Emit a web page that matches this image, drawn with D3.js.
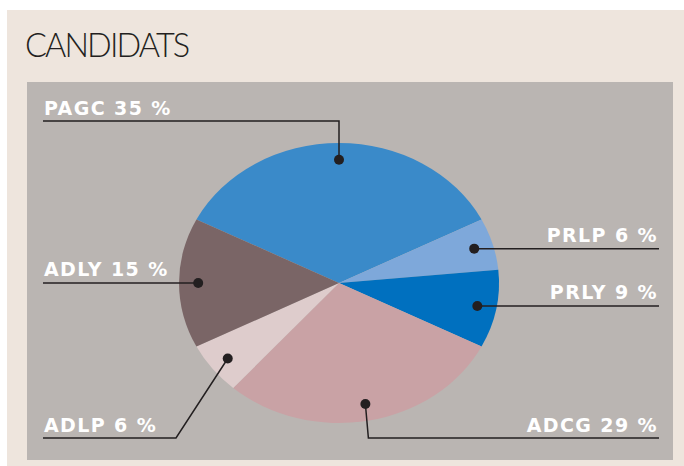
<!DOCTYPE html>
<html>
<head>
<meta charset="utf-8">
<script src="https://cdn.jsdelivr.net/npm/d3@7"></script>
<style>
  body { margin: 0; background: #fff; }
  svg { display: block; }
  .title { font-family: "Lato", "Open Sans", sans-serif; font-weight: 300; font-size: 32.5px; fill: #231f20; letter-spacing: -1.9px; }
  .lbl { font-family: "DejaVu Sans", sans-serif; font-weight: bold; font-size: 19px; fill: #fff; letter-spacing: 1.4px; }
</style>
</head>
<body>
<script>
// data
var parties = ["PAGC", "PRLP", "PRLY", "ADCG", "ADLP", "ADLY"];
var shares = [35, 6, 9, 29, 6, 15];
var colorsList = ["#3a8ac9", "#7ea8da", "#0070bf", "#c9a2a5", "#decccc", "#7a6566"];

var width = 684;
var height = 466;

var svg = d3.select("body")
    .append("svg")
    .attr("width", width)
    .attr("height", height);

// frames
svg.append("rect").attr("x", 7).attr("y", 10).attr("width", width - 7).attr("height", height - 10).attr("fill", "#eee5dd");
svg.append("rect").attr("x", 27).attr("y", 82).attr("width", 646).attr("height", 378).attr("fill", "#bab5b2");

svg.append("text")
    .attr("class", "title")
    .attr("x", 25)
    .attr("y", 57)
    .text("CANDIDATS");

var pieData = parties.map(function(p, i) { return {name: p, value: shares[i], color: colorsList[i]}; });

var pie = d3.pie()
    .sort(null)
    .startAngle(-0.35 * Math.PI)
    .endAngle(1.65 * Math.PI)
    .value(function(d) { return d.value; });
var arcsData = pie(pieData);

// ellipse: draw a circle of radius r then squash vertically
var cx = 339, cy = 283, rx = 160, ry = 140;
var r = rx;
var sy = ry / rx;

var arc = d3.arc().innerRadius(0).outerRadius(r);
var dotArc = d3.arc().innerRadius(r * 0.88).outerRadius(r * 0.88);

var g = svg.append("g")
    .attr("transform", "translate(" + cx + "," + cy + ") scale(1," + sy + ")");

g.selectAll("path")
    .data(arcsData)
    .enter()
    .append("path")
    .attr("fill", function(d) { return d.data.color; })
    .attr("d", arc);

// leader lines and labels
var leftX = 43, rightX = 659;
function dotPos(d) {
    var c = dotArc.centroid(d);
    return [cx + c[0], cy + c[1] * sy];
}

var lab = svg.selectAll(".lab")
    .data(arcsData)
    .enter()
    .append("g")
    .attr("class", "lab");

lab.append("polyline")
    .attr("fill", "none")
    .attr("stroke", "#231f20")
    .attr("stroke-width", 1.5)
    .attr("points", function(d) {
        var p = dotPos(d);
        var n = d.data.name;
        if (n == "PAGC") return [p, [p[0], 121], [leftX, 121]].join(" ");
        if (n == "ADCG") return [p, [p[0] + 3, 438], [rightX, 438]].join(" ");
        if (n == "ADLP") return [p, [176, 438], [leftX, 438]].join(" ");
        var right = p[0] > cx;
        return [p, [right ? rightX : leftX, p[1]]].join(" ");
    });

lab.append("circle")
    .attr("r", 5)
    .attr("fill", "#231f20")
    .attr("cx", function(d) { return dotPos(d)[0]; })
    .attr("cy", function(d) { return dotPos(d)[1]; });

lab.append("text")
    .attr("class", "lbl")
    .attr("text-anchor", function(d) {
        var n = d.data.name;
        return (n == "PRLP" || n == "PRLY" || n == "ADCG") ? "end" : "start";
    })
    .attr("x", function(d) {
        var n = d.data.name;
        // trailing letter-spacing is added after the last glyph, so shift end-anchored text
        return (n == "PRLP" || n == "PRLY" || n == "ADCG") ? rightX - 1 : leftX + 1;
    })
    .attr("y", function(d) {
        var n = d.data.name;
        if (n == "PAGC") return 115;
        if (n == "ADCG" || n == "ADLP") return 432;
        return dotPos(d)[1] - 7;
    })
    .text(function(d) { return d.data.name + " " + d.data.value + " %"; });
</script>
</body>
</html>
